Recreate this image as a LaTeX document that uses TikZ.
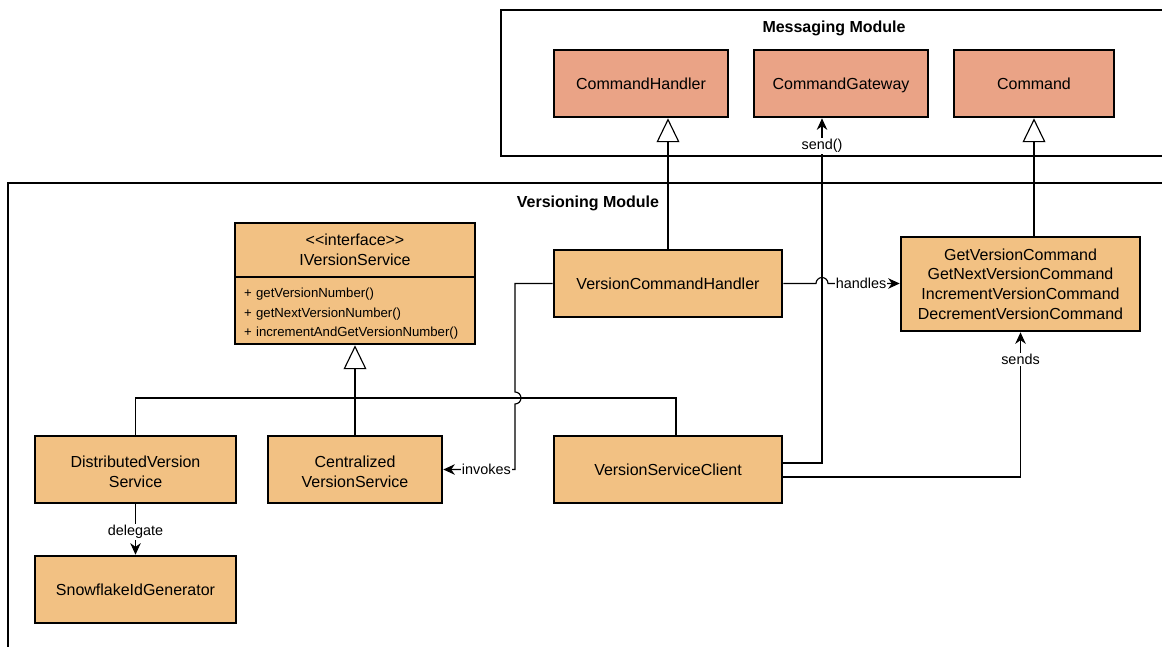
\documentclass[tikz,border=0pt]{standalone}
\usepackage{fontspec}
\setmainfont{Liberation Sans}
\usepackage{tikz}
\usetikzlibrary{arrows.meta}
\definecolor{clsorange}{HTML}{F2C183}
\definecolor{msgsalmon}{HTML}{EAA386}
\tikzset{
  module/.style={draw=black, line width=1.1pt},
  modtitle/.style={font=\fontsize{9.1}{11}\selectfont\bfseries},
  cls/.style={draw=black, line width=1.5pt, fill=clsorange, align=center, inner sep=0pt,
    minimum height=1.34cm, font=\fontsize{9.1}{11.2}\selectfont},
  msgcls/.style={cls, fill=msgsalmon, text depth=0pt},
  conn/.style={line width=0.65pt},
  dep/.style={conn, -{Stealth[length=6.6pt,width=6pt]}},
  impl/.style={conn, -{Triangle[fill=white,length=13.6pt,width=13pt]}},
  lbl/.style={fill=white, inner sep=0.6pt, font=\fontsize{8.2}{10}\selectfont},
}
\begin{document}
\begin{tikzpicture}[x=0.02cm, y=-0.02cm]
\useasboundingbox (0,0) rectangle (1162,646);
\clip (0,0) rectangle (1162,646);
%%% The two module frames
\draw[module] (501,10) rectangle (1200,156);
\node[modtitle] (msgtitle) at (834,28) {Messaging Module};
\draw[module] (8,183) rectangle (1200,700);
\node[modtitle] (vertitle) at (588,203) {Versioning Module};
%%% The classes of the messaging module
\node[msgcls, minimum width=3.48cm] (ch) at (641,83.5) {CommandHandler};
\node[msgcls, minimum width=3.48cm] (cg) at (841,83.5) {CommandGateway};
\node[msgcls, minimum width=3.2cm] (cmd) at (1034,83.5) {Command};
%%% The interface and its methods
\node[cls, minimum width=4.8cm, minimum height=1.08cm] (ivs) at (355,250) {<{}<interface>{}>\\IVersionService};
\node[cls, minimum width=4.8cm, text width=4.44cm, inner xsep=0.18cm, align=left,
  font=\fontsize{7.5}{11.05}\selectfont] (ivsops) at (355,310.5)
  {\rule{0pt}{9pt}+ getVersionNumber()\\+ getNextVersionNumber()\\+ incrementAndGetVersionNumber()};
%%% The classes of the versioning module
\node[cls, minimum width=4.56cm] (vch) at (668,283.5) {VersionCommandHandler};
\node[cls, minimum width=4.78cm, minimum height=1.88cm] (gv) at (1020.5,284)
  {GetVersionCommand\\GetNextVersionCommand\\IncrementVersionCommand\\DecrementVersionCommand};
\node[cls, minimum width=4.02cm] (dvs) at (135.5,469.5) {\rule{0pt}{9pt}DistributedVersion\\Service};
\node[cls, minimum width=3.48cm] (cvs) at (355,469.5) {\rule{0pt}{9pt}Centralized\\VersionService};
\node[cls, minimum width=4.56cm] (vsc) at (668,469.5) {VersionServiceClient};
\node[cls, minimum width=4.02cm] (snow) at (135.5,589.5) {SnowflakeIdGenerator};
%%% Generalisations
\draw[impl] (vch.north) -- (vch.north |- ch.south);
\draw[impl] (cmd.south |- gv.north) -- (cmd.south);
\coordinate (bus) at (355,398);
\draw[impl] (cvs.north) -- (ivsops.south);
\draw[conn] (dvs.north) |- (bus);
\draw[conn] ([xshift=0.16cm]vsc.north) |- (bus);
%%% Dependencies
\draw[dep] (vch.east) -- (816,283.5) arc[start angle=180, end angle=0, radius=0.12cm]
  -- node[lbl, pos=0.46]{handles} (gv.west |- vch.east);
\draw[dep] (vch.west) -- (515,283.5) -- (515,392) arc[start angle=90, end angle=-90, radius=0.12cm]
  |- node[lbl, pos=0.7]{invokes} (cvs.east);
\draw[dep] ([yshift=0.13cm]vsc.east) -| node[lbl, pos=0.96]{send()} ([xshift=-0.38cm]cg.south);
\draw[dep] ([yshift=-0.15cm]vsc.east) -| node[lbl, pos=0.905]{sends} (gv.south);
\draw[dep] (dvs.south) -- node[lbl, pos=0.55]{delegate} (snow.north);
\end{tikzpicture}
\end{document}
